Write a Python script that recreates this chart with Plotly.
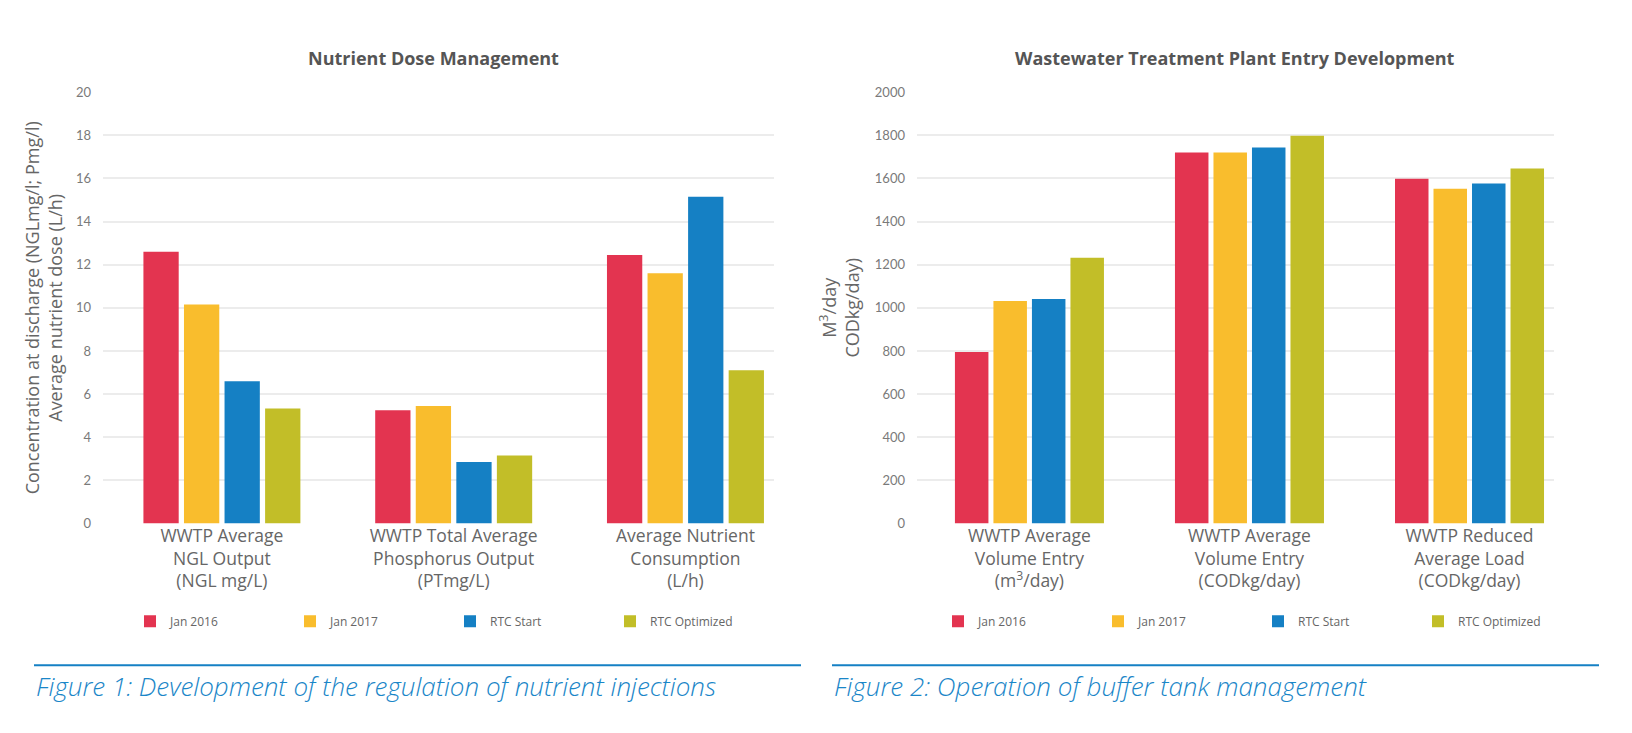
import plotly.graph_objects as go

W, H = 1632, 733

series = ["Jan 2016", "Jan 2017", "RTC Start", "RTC Optimized"]
colors = ["#E33450", "#F9BD2D", "#1580C4", "#C2BE28"]

# chart 1: nutrient dose
cats1 = ["WWTP Average<br>NGL Output<br>(NGL mg/L)",
         "WWTP Total Average<br>Phosphorus Output<br>(PTmg/L)",
         "Average Nutrient<br>Consumption<br>(L/h)"]
jan2016_1 = [12.6, 5.25, 12.45]
jan2017_1 = [10.15, 5.45, 11.6]
rtcstart_1 = [6.6, 2.85, 15.15]
rtcopt_1 = [5.33, 3.15, 7.1]

# chart 2: plant entry
cats2 = ["WWTP Average<br>Volume Entry<br>(m<sup>3</sup>/day)",
         "WWTP Average<br>Volume Entry<br>(CODkg/day)",
         "WWTP Reduced<br>Average Load<br>(CODkg/day)"]
jan2016_2 = [795, 1720, 1598]
jan2017_2 = [1032, 1720, 1552]
rtcstart_2 = [1041, 1743, 1576]
rtcopt_2 = [1232, 1798, 1646]

vals1 = [jan2016_1, jan2017_1, rtcstart_1, rtcopt_1]
vals2 = [jan2016_2, jan2017_2, rtcstart_2, rtcopt_2]

FONT = "Open Sans"
GREY = "#666666"

fig = go.Figure()
for name, col, v in zip(series, colors, vals1):
    fig.add_trace(go.Bar(x=cats1, y=v, name=name, marker_color=col,
                         marker_line_width=0, xaxis="x", yaxis="y", legend="legend"))
for name, col, v in zip(series, colors, vals2):
    fig.add_trace(go.Bar(x=cats2, y=v, name=name, marker_color=col,
                         marker_line_width=0, xaxis="x2", yaxis="y2", legend="legend2"))

def px(x):
    return x / W

def py_(y):
    return 1 - y / H

ydom = [py_(527), py_(86)]
xax = dict(showgrid=False, zeroline=False, showline=False, ticks="",
           tickfont=dict(family=FONT, size=17.5, color=GREY), fixedrange=True)
yax = dict(showgrid=True, gridcolor="#ececec", gridwidth=2, zeroline=False,
           showline=False, ticks="", ticklabelstandoff=11,
           tickfont=dict(family="Lato", size=13, color="#7a7a7a"))

leg = dict(orientation="h", yanchor="middle", y=py_(627), xanchor="left",
           entrywidth=115, entrywidthmode="pixels", traceorder="normal",
           font=dict(family=FONT, size=12, color=GREY), bgcolor="rgba(0,0,0,0)")

fig.update_layout(
    width=W, height=H, margin=dict(l=0, r=0, t=0, b=0),
    paper_bgcolor="white", plot_bgcolor="white",
    barmode="group", bargap=0.3, bargroupgap=0.13,
    xaxis=dict(xax, domain=[px(103), px(774)], range=[-0.513, 2.382], anchor="y"),
    yaxis=dict(yax, domain=ydom, range=[0, 20], dtick=2, anchor="x",
               title=dict(text="Concentration at discharge (NGLmg/l; Pmg/l)<br>Average nutrient dose (L/h)",
                          font=dict(family=FONT, size=18, color=GREY), standoff=8)),
    xaxis2=dict(xax, domain=[px(917), px(1554)], range=[-0.511, 2.384], anchor="y2"),
    yaxis2=dict(yax, domain=ydom, range=[0, 2000], dtick=200, anchor="x2",
                title=dict(text="M<sup>3</sup>/day<br>CODkg/day)",
                           font=dict(family=FONT, size=18, color=GREY), standoff=10)),
    legend=dict(leg, x=px(130)),
    legend2=dict(leg, x=px(938)),
    showlegend=True,
)

# chart titles
for text, xc in [("Nutrient Dose Management", 433), ("Wastewater Treatment Plant Entry Development", 1235)]:
    fig.add_annotation(text="<b>" + text + "</b>", x=px(xc), y=py_(51), xref="paper", yref="paper",
                       xanchor="center", yanchor="middle", showarrow=False,
                       font=dict(family=FONT, size=18, color="#555555"))

# figure captions with rule above
for text, x0, x1 in [("Figure 1: Development of the regulation of nutrient injections", 34, 801),
                     ("Figure 2: Operation of buffer tank management", 832, 1599)]:
    fig.add_shape(type="line", xref="paper", yref="paper", x0=px(x0), x1=px(x1),
                  y0=py_(672), y1=py_(672), line=dict(color="#1580C4", width=2))
    fig.add_annotation(text="<i>" + text + "</i>", x=px(x0), y=py_(693), xref="paper", yref="paper",
                       xanchor="left", yanchor="middle", showarrow=False,
                       font=dict(family=FONT, size=26, color="#1A86C8", weight=300))

fig.write_html("out.html", config={"displayModeBar": False},
               post_script="document.body.style.margin='0';")
